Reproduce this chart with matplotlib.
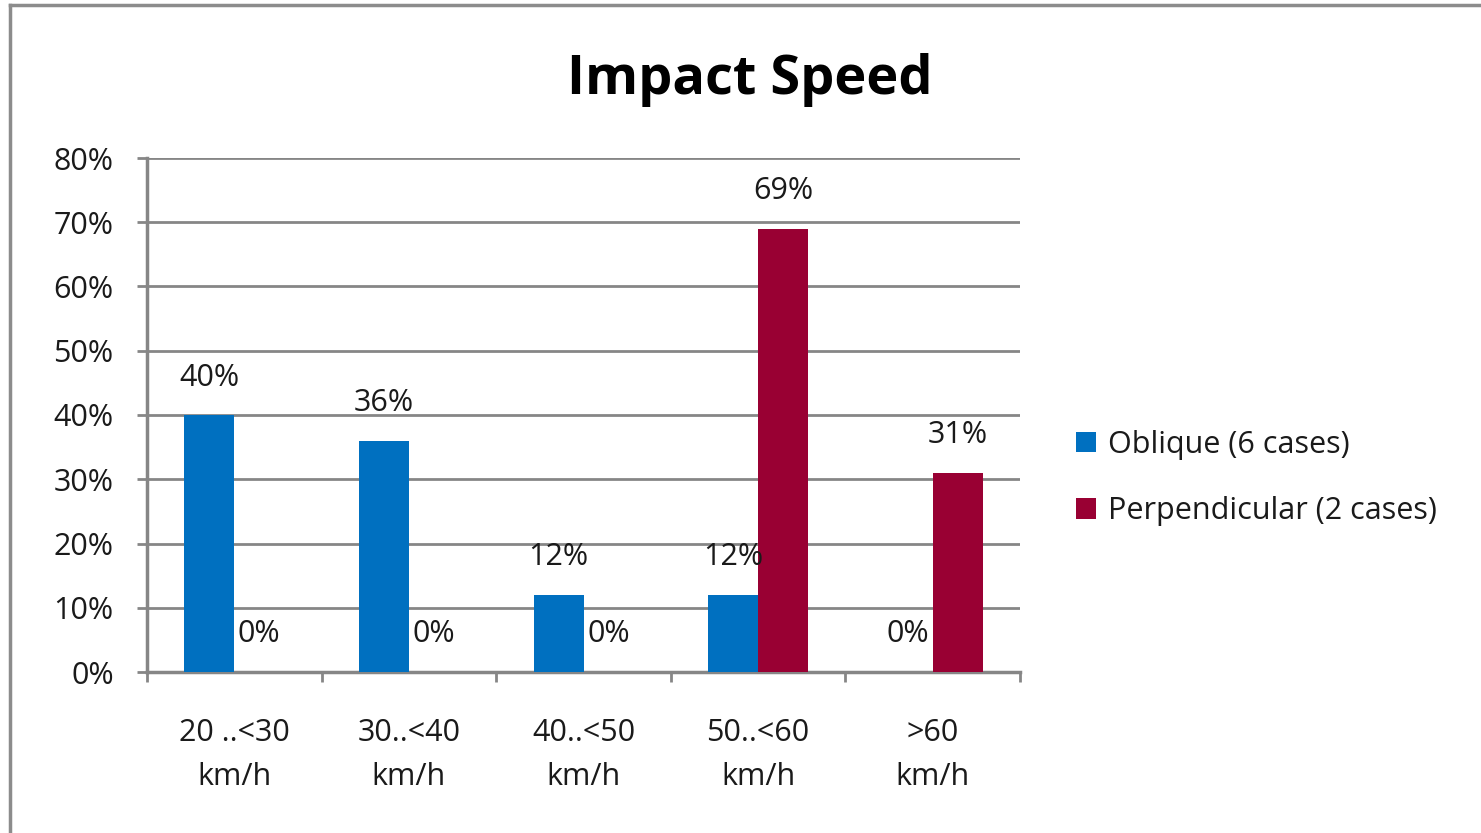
import matplotlib
matplotlib.use("Agg")
import matplotlib.pyplot as plt
from matplotlib.lines import Line2D
import numpy as np

categories = ["20 ..<30\nkm/h", "30..<40\nkm/h", "40..<50\nkm/h", "50..<60\nkm/h", ">60\nkm/h"]
oblique = [40, 36, 12, 12, 0]
perpendicular = [0, 0, 0, 69, 31]
series_names = ["Oblique (6 cases)", "Perpendicular (2 cases)"]
y_ticks = [0, 10, 20, 30, 40, 50, 60, 70, 80]

blue = "#0070C0"
red = "#990033"
grid_gray = "#868686"
text_color = "#1a1a1a"
fs = 22

plt.rcParams["font.family"] = ["Open Sans", "DejaVu Sans"]

fig = plt.figure(figsize=(14.81, 8.33), dpi=100)
ax = fig.add_axes([147 / 1481, 1 - 672 / 833, (1020 - 147) / 1481, (672 - 158) / 833])

# outer chart frame (left and top edges)
fig.add_artist(Line2D([10 / 1481, 10 / 1481], [0, 1 - 5 / 833], transform=fig.transFigure,
                      color="#8c8c8c", lw=2.5))
fig.add_artist(Line2D([10 / 1481, 1], [1 - 5 / 833, 1 - 5 / 833], transform=fig.transFigure,
                      color="#8c8c8c", lw=2.5))

x = np.arange(len(categories))
w = 50 / 174.6
b1 = ax.bar(x - w / 2, oblique, w, color=blue, label=series_names[0], zorder=3)
b2 = ax.bar(x + w / 2, perpendicular, w, color=red, label=series_names[1], zorder=3)

for bars, vals in ((b1, oblique), (b2, perpendicular)):
    for rect, v in zip(bars, vals):
        ax.annotate(f"{v}%", (rect.get_x() + rect.get_width() / 2, v),
                    xytext=(0, 27), textcoords="offset points",
                    ha="center", va="center", fontsize=fs, color=text_color, zorder=4)

ax.set_xlim(-0.5, len(categories) - 0.5)
ax.set_ylim(0, 80)
ax.set_yticks(y_ticks)
ax.set_yticklabels([f"{t}%" for t in y_ticks], fontsize=fs, color=text_color)
ax.yaxis.grid(True, color=grid_gray, lw=2, zorder=0)
ax.set_axisbelow(True)

ax.set_xticks(np.arange(-0.5, len(categories), 1.0))
ax.set_xticklabels([])
ax.set_xticks(x, minor=True)
ax.set_xticklabels(categories, minor=True, fontsize=fs, color=text_color, linespacing=1.6)
ax.tick_params(axis="x", which="major", length=7, width=2, color=grid_gray, direction="out")
ax.tick_params(axis="x", which="minor", length=0, pad=33)
ax.tick_params(axis="y", length=7, width=2, color=grid_gray, pad=17)

for s in ("top", "right"):
    ax.spines[s].set_visible(False)
for s in ("left", "bottom"):
    ax.spines[s].set_color(grid_gray)
    ax.spines[s].set_linewidth(2.5)

fig.text(750 / 1481, 1 - 80 / 833, "Impact Speed", ha="center", va="center",
         fontsize=39, fontweight="bold", color="black")

leg = fig.legend(handles=[b1, b2], loc="center left",
                 bbox_to_anchor=(1076 / 1481, 1 - 478 / 833),
                 frameon=False, fontsize=fs, handlelength=0.65, handleheight=0.65,
                 handletextpad=0.4, labelspacing=1.2, borderaxespad=0, borderpad=0)
for t in leg.get_texts():
    t.set_color(text_color)

fig.savefig("out.png", dpi=100, facecolor="white")
